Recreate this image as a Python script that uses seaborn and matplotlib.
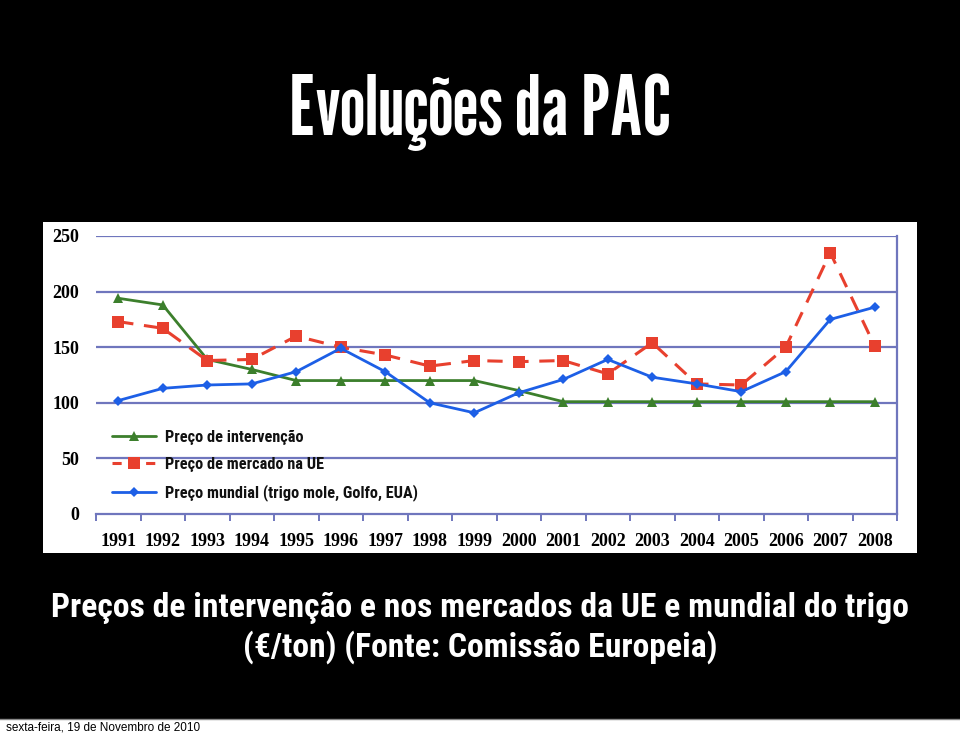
import matplotlib
matplotlib.use("Agg")
import matplotlib.pyplot as plt
import seaborn as sns
import pandas as pd
from matplotlib.patches import Rectangle
from matplotlib.lines import Line2D

years = list(range(1991, 2009))
preco_intervencao = [194, 188, 139, 130, 120, 120, 120, 120, 120, 111, 101, 101, 101, 101, 101, 101, 101, 101]
preco_mercado_ue = [173, 167, 138, 139, 160, 150, 143, 133, 138, 137, 138, 126, 154, 117, 116, 150, 235, 151]
preco_mundial = [102, 113, 116, 117, 128, 149, 128, 100, 91, 109, 121, 139, 123, 117, 110, 128, 175, 186]
labels = ["Preço de intervenção", "Preço de mercado na UE", "Preço mundial (trigo mole, Golfo, EUA)"]
y_ticks = [0, 50, 100, 150, 200, 250]

title = "Evoluções da PAC"
caption = "Preços de intervenção e nos mercados da UE e mundial do trigo\n(€/ton) (Fonte: Comissão Europeia)"
footer = "sexta-feira, 19 de Novembro de 2010"

sns.set_theme(style="white")
title_font = ["League Gothic", "Antonio", "Oswald", "DejaVu Sans"]
narrow = ["Roboto Condensed", "Archivo Narrow", "Barlow Condensed", "DejaVu Sans"]
serif = ["Liberation Serif", "DejaVu Serif"]

W, H = 960, 734
fig = plt.figure(figsize=(W / 100, H / 100), dpi=100, facecolor="black")

def fx(px):
    return px / W

def fy(py):
    return 1 - py / H

# white chart box
fig.patches.append(Rectangle((fx(43), fy(553)), fx(917) - fx(43), fy(222) - fy(553),
                             transform=fig.transFigure, facecolor="white", edgecolor="none", zorder=-2))
# footer strip
fig.patches.append(Rectangle((-0.01, -0.01), 1.02, fy(719) + 0.01, transform=fig.transFigure,
                             facecolor="white", edgecolor="#888888", linewidth=1.0, zorder=-2))

ax = fig.add_axes([fx(96), fy(514), fx(897) - fx(96), fy(236) - fy(514)])
ax.set_facecolor("white")

grid_c = "#6f76bd"
green = "#3c7f2c"
red = "#e8402e"
blue = "#1d5fe6"

df = pd.DataFrame({"year": years, "a": preco_intervencao, "b": preco_mercado_ue, "c": preco_mundial})

sns.lineplot(data=df, x="year", y="a", ax=ax, color=green, linewidth=2.0, marker="^",
             markersize=7, markeredgewidth=0, zorder=4)
sns.lineplot(data=df, x="year", y="b", ax=ax, color=red, linewidth=2.2, marker="s",
             markersize=8, markeredgewidth=0, zorder=5)
sns.lineplot(data=df, x="year", y="c", ax=ax, color=blue, linewidth=2.0, marker="D",
             markersize=5, markeredgewidth=0, zorder=6)
ax.lines[1].set_dashes((5, 3.5))

ax.set_xlim(years[0] - 0.5, years[-1] + 0.5)
ax.set_ylim(0, 250)
ax.set_xlabel("")
ax.set_ylabel("")

for v in y_ticks[1:]:
    ax.axhline(v, color=grid_c, linewidth=1.6, zorder=1)

ax.set_yticks(y_ticks)
ax.set_yticklabels([str(v) for v in y_ticks])
ax.set_xticks(years)
ax.set_xticklabels([str(y) for y in years])
ax.set_xticks([y + 0.5 for y in [years[0] - 1] + years], minor=True)
ax.tick_params(axis="x", which="major", length=0, pad=14)
ax.tick_params(axis="x", which="minor", length=5, width=1.4, color=grid_c, direction="out", bottom=True)
ax.tick_params(axis="y", length=0, pad=12)
for t in ax.get_xticklabels() + ax.get_yticklabels():
    t.set_fontfamily(serif)
    t.set_fontweight("bold")
    t.set_fontsize(13)
    t.set_color("black")

for s in ["left", "top"]:
    ax.spines[s].set_visible(False)
for s in ["bottom", "right"]:
    ax.spines[s].set_visible(True)
    ax.spines[s].set_color(grid_c)
    ax.spines[s].set_linewidth(1.6)

handles = [
    Line2D([], [], color=green, linewidth=2.0, marker="^", markersize=7, markeredgewidth=0),
    Line2D([], [], color=red, linewidth=2.2, marker="s", markersize=8, markeredgewidth=0, dashes=(3, 2.5)),
    Line2D([], [], color=blue, linewidth=2.0, marker="D", markersize=5, markeredgewidth=0),
]
leg = ax.legend(handles, labels, loc="upper left", bbox_to_anchor=(fx(97), fy(415)),
                bbox_transform=fig.transFigure, frameon=False, handlelength=2.7,
                handletextpad=0.6, labelspacing=0.76,
                prop={"family": narrow, "size": 11.7, "weight": "bold"})
for t in leg.get_texts():
    t.set_color("#111111")

fig.text(0.5, fy(112), title, ha="center", va="center", color="white",
         fontsize=59.5, family=title_font)
fig.text(0.5, fy(628), caption, ha="center", va="center", color="white",
         fontsize=24.2, fontweight="bold", family=narrow, linespacing=1.25)
fig.text(fx(6), fy(728), footer, ha="left", va="center", color="black",
         fontsize=8.5, family=["Liberation Sans", "DejaVu Sans"])

fig.savefig("out.png", dpi=100, facecolor="black")
